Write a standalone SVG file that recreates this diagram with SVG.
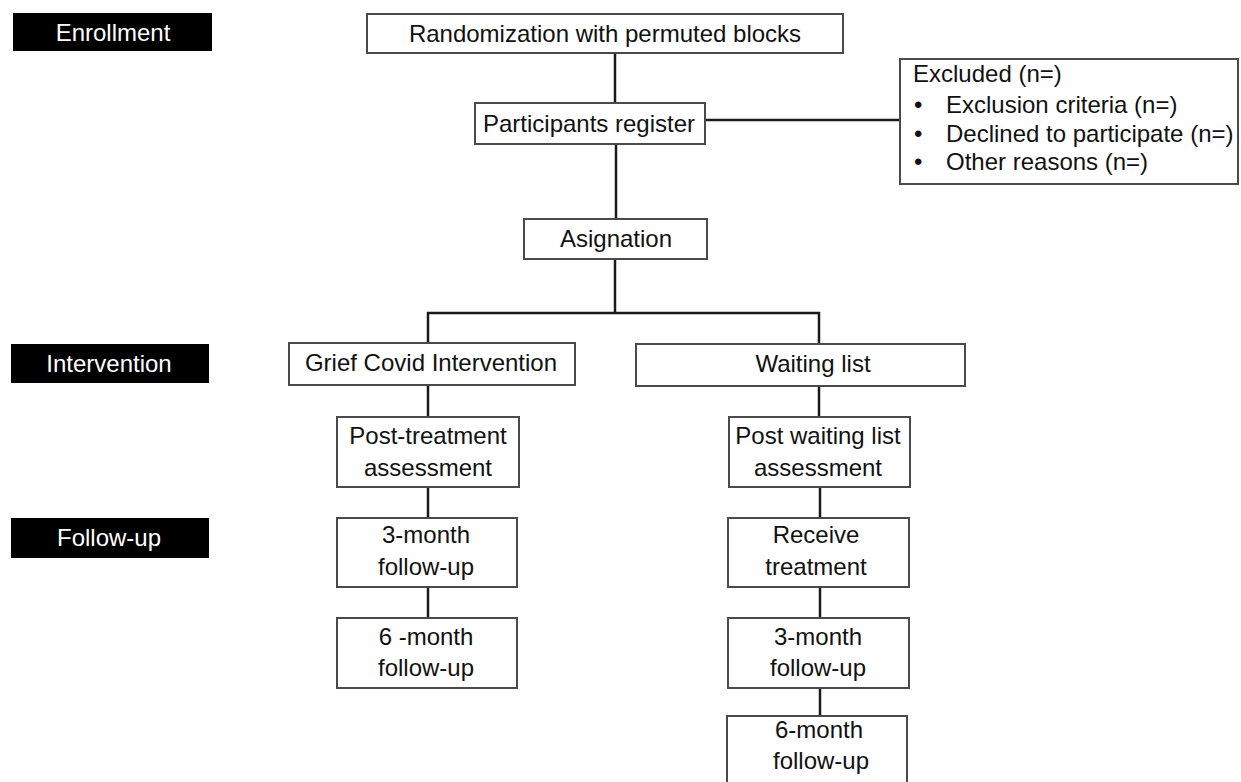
<svg xmlns="http://www.w3.org/2000/svg" width="1241" height="782" viewBox="0 0 1241 782">
<style>
  .box { fill: #ffffff; stroke: #4a4a4a; stroke-width: 2; }
  .lab { fill: #000000; }
  .t { font-family: "Liberation Sans", Arial, sans-serif; font-size: 24px; fill: #111111; }
  .c { text-anchor: middle; }
  .w { fill: #ffffff; }
  .ln { stroke: #1a1a1a; stroke-width: 2.5; fill: none; }
</style>
<rect width="1241" height="782" fill="#ffffff"/>

<g id="label-enrollment">
  <rect class="lab" x="13" y="13" width="199" height="38"/>
  <text class="t c w" x="113" y="41">Enrollment</text>
</g>
<g id="label-intervention">
  <rect class="lab" x="11" y="344" width="198" height="39"/>
  <text class="t c w" x="109" y="372">Intervention</text>
</g>
<g id="label-followup">
  <rect class="lab" x="11" y="518" width="198" height="40"/>
  <text class="t c w" x="109" y="546">Follow-up</text>
</g>

<g id="connectors">
  <line class="ln" x1="615" y1="53" x2="615" y2="103"/>
  <line class="ln" x1="705" y1="120" x2="900" y2="120"/>
  <line class="ln" x1="616" y1="144" x2="616" y2="219"/>
  <polyline class="ln" points="615,259 615,313"/>
  <polyline class="ln" points="428,343 428,313 819,313 819,344"/>
  <line class="ln" x1="428" y1="385" x2="428" y2="417"/>
  <line class="ln" x1="428" y1="487" x2="428" y2="518"/>
  <line class="ln" x1="428" y1="587" x2="428" y2="618"/>
  <line class="ln" x1="819" y1="386" x2="819" y2="417"/>
  <line class="ln" x1="820" y1="487" x2="820" y2="518"/>
  <line class="ln" x1="820" y1="587" x2="820" y2="618"/>
  <line class="ln" x1="820" y1="688" x2="820" y2="716"/>
</g>

<g id="randomization">
  <rect class="box" x="367" y="14" width="476" height="39"/>
  <text class="t c" x="605" y="42">Randomization with permuted blocks</text>
</g>
<g id="participants">
  <rect class="box" x="475" y="103" width="230" height="41"/>
  <text class="t c" x="589" y="132">Participants register</text>
</g>
<g id="excluded">
  <rect class="box" x="900" y="59" width="338" height="125"/>
  <text class="t" x="913" y="82">Excluded (n=)</text>
  <text class="t" x="914" y="113">•</text>
  <text class="t" x="946" y="113">Exclusion criteria (n=)</text>
  <text class="t" x="914" y="142">•</text>
  <text class="t" x="946" y="142">Declined to participate (n=)</text>
  <text class="t" x="914" y="170">•</text>
  <text class="t" x="946" y="170">Other reasons (n=)</text>
</g>
<g id="asignation">
  <rect class="box" x="524" y="219" width="183" height="40"/>
  <text class="t c" x="616" y="247">Asignation</text>
</g>
<g id="grief">
  <rect class="box" x="289" y="343" width="286" height="42"/>
  <text class="t c" x="431" y="371">Grief Covid Intervention</text>
</g>
<g id="waiting">
  <rect class="box" x="636" y="344" width="329" height="42"/>
  <text class="t c" x="813" y="372">Waiting list</text>
</g>
<g id="post-treatment">
  <rect class="box" x="337" y="417" width="182" height="70"/>
  <text class="t c" x="428" y="444">Post-treatment</text>
  <text class="t c" x="428" y="476">assessment</text>
</g>
<g id="post-waiting">
  <rect class="box" x="729" y="417" width="181" height="70"/>
  <text class="t c" x="818" y="444">Post waiting list</text>
  <text class="t c" x="818" y="476">assessment</text>
</g>
<g id="left-3month">
  <rect class="box" x="337" y="518" width="180" height="69"/>
  <text class="t c" x="426" y="543">3-month</text>
  <text class="t c" x="426" y="575">follow-up</text>
</g>
<g id="left-6month">
  <rect class="box" x="337" y="618" width="180" height="70"/>
  <text class="t c" x="426" y="645">6 -month</text>
  <text class="t c" x="426" y="676">follow-up</text>
</g>
<g id="receive">
  <rect class="box" x="728" y="518" width="181" height="69"/>
  <text class="t c" x="816" y="543">Receive</text>
  <text class="t c" x="816" y="575">treatment</text>
</g>
<g id="right-3month">
  <rect class="box" x="728" y="618" width="181" height="70"/>
  <text class="t c" x="818" y="645">3-month</text>
  <text class="t c" x="818" y="676">follow-up</text>
</g>
<g id="right-6month">
  <rect class="box" x="727" y="716" width="180" height="72"/>
  <text class="t c" x="819" y="738">6-month</text>
  <text class="t c" x="821" y="769">follow-up</text>
</g>
</svg>
